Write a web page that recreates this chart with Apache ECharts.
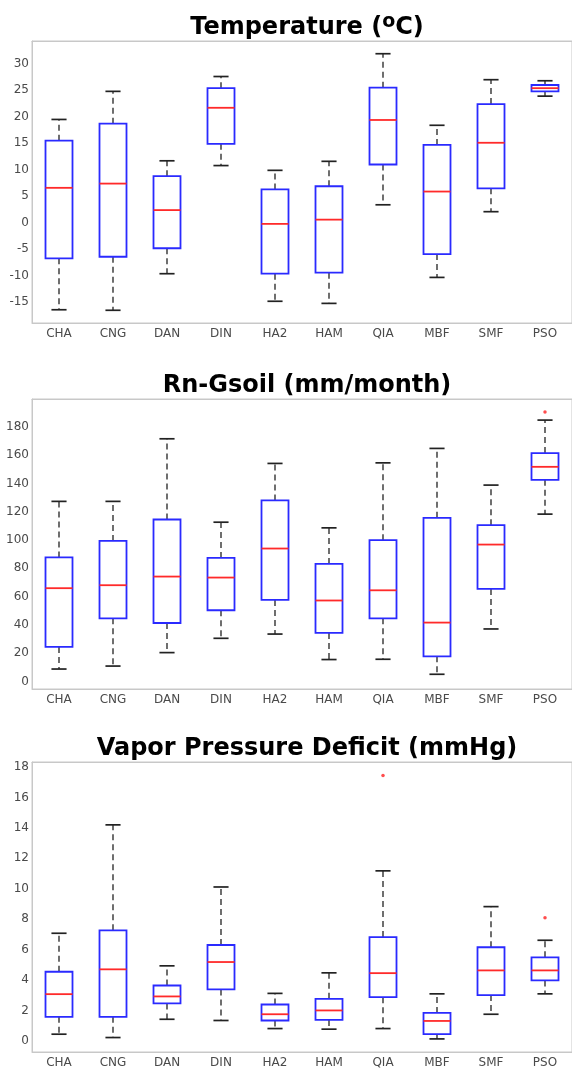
<!DOCTYPE html>
<html>
<head>
<meta charset="utf-8">
<script src="https://cdn.jsdelivr.net/npm/echarts@6/dist/echarts.min.js"></script>
<style>
html,body{margin:0;padding:0;background:#fff;}
#chart{width:572px;height:1069px;}
</style>
</head>
<body>
<div id="chart"></div>
<script>
const categories = ['CHA','CNG','DAN','DIN','HA2','HAM','QIA','MBF','SMF','PSO'];

// Temperature (oC)
const tempLow  = [-16.4,-16.5,-9.6,10.8,-14.8,-15.2, 3.4,-10.3, 2.1,23.9];
const tempQ1   = [ -6.7, -6.4,-4.8,14.9, -9.6, -9.4,11.0, -5.9, 6.5,24.8];
const tempMed  = [  6.6,  7.4, 2.4,21.7, -0.2,  0.6,19.4,  5.9,15.1,25.4];
const tempQ3   = [ 15.5, 18.7, 8.8,25.4,  6.3,  6.9,25.5, 14.7,22.4,26.0];
const tempHigh = [ 19.5, 24.8,11.7,27.6,  9.9, 11.6,31.9, 18.4,27.0,26.8];
const tempOutliers = [];
const tempTicks = [-15,-10,-5,0,5,10,15,20,25,30];

// Rn-Gsoil (mm/month)
const rnLow  = [  8.9, 11.0, 20.5, 30.6, 33.6, 15.6, 15.8,  5.2, 37.2,118.3];
const rnQ1   = [ 24.5, 44.7, 41.4, 50.4, 57.7, 34.4, 44.7, 17.9, 65.5,142.5];
const rnMed  = [ 66.0, 68.1, 74.2, 73.5, 94.0, 57.3, 64.5, 41.7, 96.8,151.7];
const rnQ3   = [ 87.7, 99.4,114.5, 87.4,128.0, 83.1, 99.9,115.7,110.5,161.4];
const rnHigh = [127.3,127.3,171.5,112.6,154.1,108.6,154.5,164.7,138.8,184.7];
const rnOutliers = [[9, 190.4]];
const rnTicks = [0,20,40,60,80,100,120,140,160,180];

// Vapor Pressure Deficit (mmHg)
const vpdLow  = [0.45,0.23,1.43, 1.35,0.82,0.78, 0.82,0.14,1.76,3.10];
const vpdQ1   = [1.59,1.59,2.47, 3.39,1.35,1.39, 2.88,0.45,3.02,3.98];
const vpdMed  = [3.08,4.71,2.93, 5.19,1.76,2.01, 4.46,1.32,4.64,4.64];
const vpdQ3   = [4.55,7.27,3.65, 6.31,2.40,2.77, 6.83,1.85,6.16,5.50];
const vpdHigh = [7.08,14.2,4.94,10.12,3.13,4.48,11.18,3.10,8.83,6.62];
const vpdOutliers = [[6, 17.45],[9, 8.10]];
const vpdTicks = [0,2,4,6,8,10,12,14,16,18];

const panels = [
  {title:'{a|Temperature (}{s|o}{a|C)}', low:tempLow, q1:tempQ1, med:tempMed, q3:tempQ3, high:tempHigh, out:tempOutliers, ticks:tempTicks, min:-18.9, max:34.3, top:41, height:282, titleTop:8},
  {title:'{a|Rn-Gsoil (mm/month)}', low:rnLow, q1:rnQ1, med:rnMed, q3:rnQ3, high:rnHigh, out:rnOutliers, ticks:rnTicks, min:-5.2, max:199.6, top:399, height:290, titleTop:366},
  {title:'{a|Vapor Pressure Deficit (mmHg)}', low:vpdLow, q1:vpdQ1, med:vpdMed, q3:vpdQ3, high:vpdHigh, out:vpdOutliers, ticks:vpdTicks, min:-0.72, max:18.33, top:762, height:290, titleTop:729}
];

const FONT = 'DejaVu Sans';
const frameColor = '#c8c8c8';
const tickColor = '#9a9a9a';
const labelColor = '#4a4a4a';

function renderBox(params, api) {
  const i = api.value(0);
  const lo = api.coord([i, api.value(1)]);
  const q1 = api.coord([i, api.value(2)]);
  const md = api.coord([i, api.value(3)]);
  const q3 = api.coord([i, api.value(4)]);
  const hi = api.coord([i, api.value(5)]);
  const band = api.size([1, 0])[0];
  const bw = band * 0.5, cw = band * 0.28;
  const x = lo[0];
  const dash = {stroke:'#222', lineWidth:1.3, lineDash:[6,4]};
  const cap = {stroke:'#222', lineWidth:1.7};
  return {type:'group', children:[
    {type:'line', shape:{x1:x,y1:q3[1],x2:x,y2:hi[1]}, style:dash},
    {type:'line', shape:{x1:x,y1:q1[1],x2:x,y2:lo[1]}, style:dash},
    {type:'line', shape:{x1:x-cw/2,y1:hi[1],x2:x+cw/2,y2:hi[1]}, style:cap},
    {type:'line', shape:{x1:x-cw/2,y1:lo[1],x2:x+cw/2,y2:lo[1]}, style:cap},
    {type:'rect', shape:{x:x-bw/2, y:q3[1], width:bw, height:q1[1]-q3[1]}, style:{fill:'none', stroke:'#2a2aff', lineWidth:1.8}},
    {type:'line', shape:{x1:x-bw/2,y1:md[1],x2:x+bw/2,y2:md[1]}, style:{stroke:'#ff2a2a', lineWidth:1.8}}
  ]};
}

const option = {
  backgroundColor:'#fff',
  animation:false,
  title:[], grid:[], xAxis:[], yAxis:[], series:[]
};

panels.forEach((p, k) => {
  option.title.push({
    text:p.title, left:302, top:p.titleTop, textAlign:'center',
    textStyle:{rich:{
      a:{fontFamily:FONT, fontWeight:'bold', fontSize:24, color:'#000', lineHeight:30, verticalAlign:'middle'},
      s:{fontFamily:FONT, fontWeight:'bold', fontSize:19, color:'#000', lineHeight:18, verticalAlign:'top'}
    }}
  });
  option.grid.push({left:32, width:540, top:p.top, height:p.height, show:true, borderColor:frameColor, borderWidth:1, containLabel:false});
  const axisTick = {inside:true, length:4, lineStyle:{color:tickColor}};
  option.xAxis.push({
    type:'category', gridIndex:k, data:categories, position:'bottom',
    axisLine:{show:true, onZero:false, lineStyle:{color:frameColor}},
    axisTick:Object.assign({alignWithLabel:true}, axisTick),
    axisLabel:{color:labelColor, fontFamily:FONT, fontSize:12, margin:5},
    splitLine:{show:false}
  });
  option.xAxis.push({
    type:'category', gridIndex:k, data:categories, position:'top',
    axisLine:{show:true, onZero:false, lineStyle:{color:frameColor}},
    axisTick:Object.assign({alignWithLabel:true}, axisTick),
    axisLabel:{show:false}, splitLine:{show:false}
  });
  option.yAxis.push({
    type:'value', gridIndex:k, min:p.min, max:p.max, position:'left',
    axisLine:{show:true, onZero:false, lineStyle:{color:frameColor}},
    axisTick:Object.assign({customValues:p.ticks}, axisTick),
    axisLabel:{customValues:p.ticks, color:labelColor, fontFamily:FONT, fontSize:12, margin:3},
    splitLine:{show:false}
  });
  option.yAxis.push({
    type:'value', gridIndex:k, min:p.min, max:p.max, position:'right',
    axisLine:{show:true, onZero:false, lineStyle:{color:frameColor}},
    axisTick:Object.assign({customValues:p.ticks}, axisTick),
    axisLabel:{show:false}, splitLine:{show:false}
  });
  option.series.push({
    type:'custom', xAxisIndex:2*k, yAxisIndex:2*k,
    renderItem:renderBox,
    encode:{x:0, y:[1,2,3,4,5]},
    data:categories.map((c,i)=>[i, p.low[i], p.q1[i], p.med[i], p.q3[i], p.high[i]]),
    z:2
  });
  option.series.push({
    type:'scatter', xAxisIndex:2*k, yAxisIndex:2*k,
    data:p.out, symbol:'circle', symbolSize:3.5,
    itemStyle:{color:'#ff2020'}, z:3
  });
});

const chart = echarts.init(document.getElementById('chart'), null, {renderer:'canvas'});
chart.setOption(option);
</script>
</body>
</html>
